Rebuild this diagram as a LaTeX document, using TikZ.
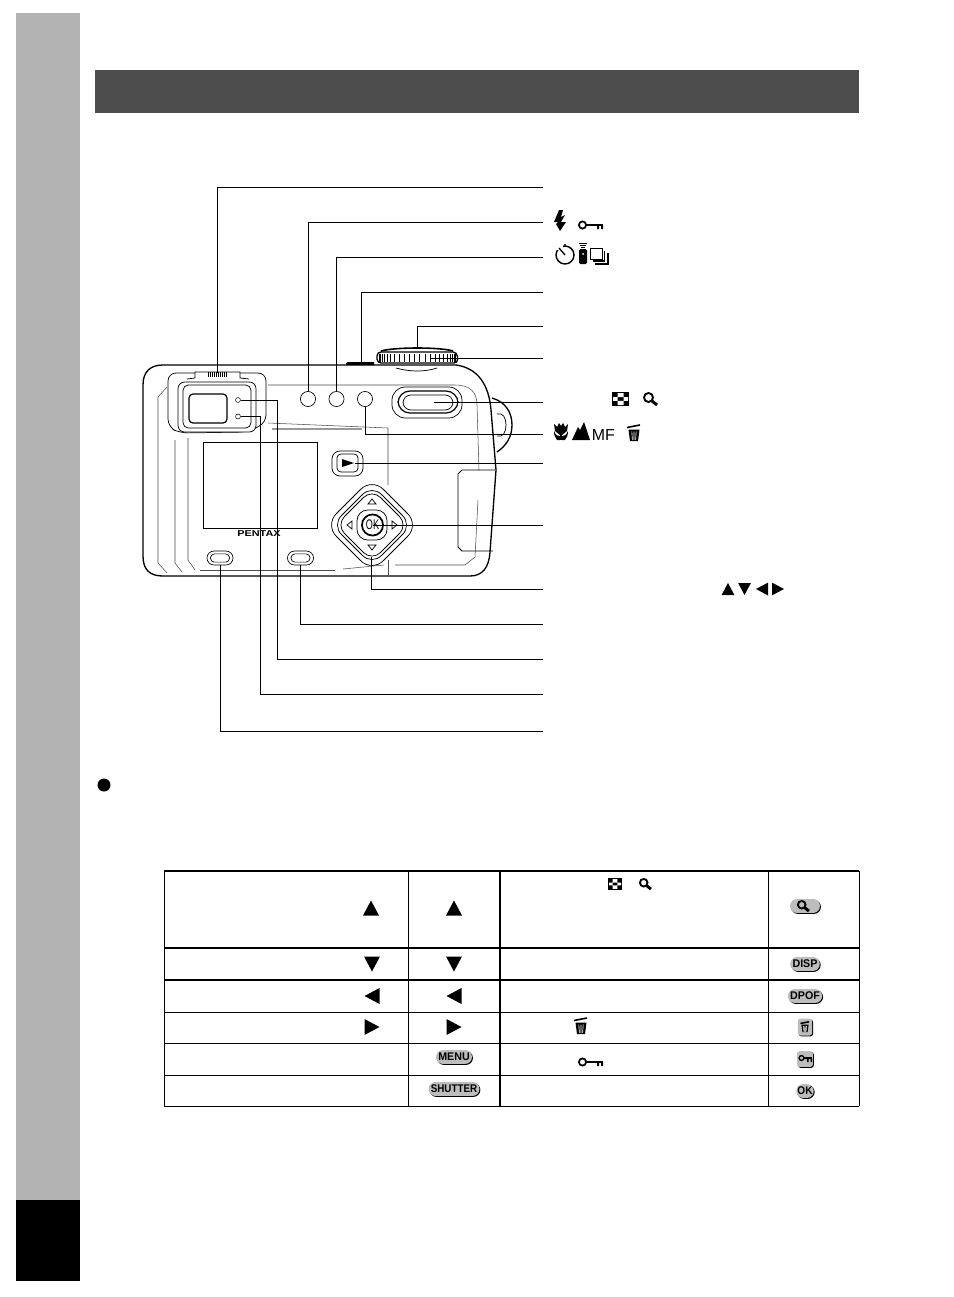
\documentclass[tikz,border=0pt]{standalone}
\usepackage{fontspec}
\usepackage{graphicx}
\setsansfont{Liberation Sans}
\usetikzlibrary{shapes.misc}

\definecolor{bandgray}{HTML}{B3B3B3}
\definecolor{headgray}{HTML}{4D4D4D}
\definecolor{capgray}{HTML}{BDBDBD}

\newcommand{\captext}[2][0.96]{\scalebox{#1}[1]{#2}}

\tikzset{
	leader/.style={draw=black, line width=0.75pt},
	rule/.style={draw=black, line width=0.6pt},
	rulethick/.style={draw=black, line width=1.35pt},
	contour/.style={draw=black!70, line width=0.4pt},
	outline/.style={draw=black, line width=0.55pt},
	roundbtn/.style={draw=black, line width=0.5pt, circle, minimum size=0.4cm, inner sep=0pt},
	led/.style={draw=black, line width=0.4pt, circle, minimum size=0.13cm, inner sep=0pt},
	ovalbtn/.style={draw=black, line width=0.5pt, rounded rectangle, minimum width=0.69cm, minimum height=0.37cm, inner sep=0pt},
	ovalin/.style={draw=black, line width=0.5pt, rounded rectangle, minimum width=0.51cm, minimum height=0.22cm, inner sep=0pt},
	keycap/.style={
		rounded rectangle,
		fill=capgray,
		inner xsep=0.8pt, inner ysep=0.5pt,
		minimum height=0.37cm,
		font=\sffamily\bfseries\fontsize{8.4}{9}\selectfont,
		preaction={fill=black, transform canvas={xshift=0.7pt, yshift=-0.7pt}},
	},
	pics/triup/.style={code={\fill (0,-7.5) -- (8,7.5) -- (-8,7.5) -- cycle;}},
	pics/tridown/.style={code={\fill (0,7.5) -- (8,-7.5) -- (-8,-7.5) -- cycle;}},
	pics/trileft/.style={code={\fill (-7.5,0) -- (7.5,-8) -- (7.5,8) -- cycle;}},
	pics/triright/.style={code={\fill (7.5,0) -- (-7.5,-8) -- (-7.5,8) -- cycle;}},
	pics/keyicon/.style={code={
		\draw[line width=1.3pt] (-8.5,0) circle (3.6);
		\fill (-5,-1) rectangle (12,1);
		\fill (6,0) rectangle (8,4) (10,0) rectangle (12,4);
	}},
	pics/trashicon/.style={code={
		\draw[line width=1.2pt] (-7,-5.5) -- (6,-8);
		\fill (-5.5,-3.5) -- (5.5,-3.5) -- (4,8) -- (-4,8) -- cycle;
		\draw[white, line width=0.5pt] (-2.2,-1.5) -- (-1.6,7) (0,-1.5) -- (0,7) (2.2,-1.5) -- (1.6,7);
	}},
	pics/magicon/.style={code={
		\draw[line width=1.4pt] (-1.5,-1.5) circle (4.5);
		\draw[line width=2.2pt] (2,2) -- (7,6);
	}},
	pics/checkicon/.style={code={
		\fill (-8.5,-7) rectangle (8.5,7);
		\fill[white] (-3,-6) rectangle (3,-1.8) (-7.5,-1.8) rectangle (-3,1.8) (3,-1.8) rectangle (7.5,1.8) (-3,1.8) rectangle (3,6);
	}},
}

\begin{document}
\begin{tikzpicture}[x=0.0265cm, y=-0.0265cm]
	\useasboundingbox (0,0) rectangle (954,1297);

	\fill[bandgray] (16,13) rectangle (80,1200);
	\fill[black] (16,1200) rectangle (80,1281);
	\fill[headgray] (95,70) rectangle (859,113);
	\fill[black] (104,785) circle (6.5);

	\draw[outline, line width=1pt] (492,398) .. controls (506,402) and (512,413) .. (512,425) .. controls (512,437) and (506,446) .. (497,452);
	\draw[outline] (497,414) .. controls (503,412) and (506,418) .. (506,425) .. controls (506,432) and (503,438) .. (497,436);
	\draw[outline, line width=1pt, fill=white] (456,365) -- (163,365) .. controls (150,365) and (143,372) .. (143,385) -- (143,556) .. controls (143,570) and (150,576) .. (163,576) -- (470,576) .. controls (482,576) and (489,568) .. (490,552) -- (496,470) -- (491,410) .. controls (489,385) and (478,368) .. (456,365) -- cycle;

	\draw[outline, line width=1pt, fill=white, rounded corners=3pt] (377,363) -- (377,352) -- (457,352) -- (458,363) -- cycle;
	\draw[outline, line width=1.2pt] (381,351) .. controls (395,347) and (440,347) .. (453,351);
	\foreach \a in {-84,-76,...,84}
		\draw[line width=0.4pt] ({417+38*sin(\a)},354) -- ({417+38*sin(\a)},362);
	\draw[outline] (396,368) .. controls (410,372) and (425,372) .. (437,368);
	\fill (346,363) -- (348,362) -- (374,362) -- (374,365) -- (346,365) -- cycle;

	\draw[outline, rounded corners=6pt] (168,427) -- (168,373) -- (266,373) -- (266,423) -- (247,432) -- (180,433) -- cycle;
	\draw[outline, fill=white, rounded corners=5pt] (178,382) rectangle (256,432);
	\draw[outline, rounded corners=4pt] (183,385) rectangle (251,428);
	\draw[outline, line width=0.9pt, rounded corners=3pt] (189,394) rectangle (227,423);
	\draw[outline, fill=white] (187,379) -- (195,378) -- (195,372) -- (240,372) -- (240,378) -- (249,379);
	\foreach \x in {208,210,...,227}
		\draw[line width=0.45pt] (\x,372) -- (\x,377);

	\draw[outline, line width=0.4pt] (203,442) rectangle (317,528);
	\node[font=\sffamily\bfseries\fontsize{6.4}{7}\selectfont] (LOGO) at (259,534) {\scalebox{1.28}[1]{PENTAX}};

	\draw[contour] (167,387) -- (158,397) -- (158,563) -- (167,573);
	\draw[contour] (175,440) -- (175,563) -- (182,572);
	\draw[contour] (188,438) -- (188,560) -- (195,570);
	\draw[contour] (200,570) -- (335,570);
	\draw[contour] (343,569) -- (384,565);
	\draw[contour] (388,560) -- (388,575);
	\draw[contour] (395,565) -- (465,565) -- (475,557) -- (478,500);
	\draw[contour] (268,423) -- (388,428) -- (388,485);
	\draw[black!40, line width=0.8pt] (272,429) -- (362,429);
	\draw[contour] (268,385) -- (455,385) .. controls (470,385) and (477,392) .. (477,405) -- (479,470);
	\draw[outline] (495,470) -- (462,470) -- (458,474) -- (458,547) -- (462,551) -- (493,551);

	\node[roundbtn] (FLASH) at (308,399) {};
	\node[roundbtn] (TIMER) at (336.5,399) {};
	\node[roundbtn] (FOCUS) at (365,399) {};
	\node[led] (LED1) at (238,400) {};
	\node[led] (LED2) at (238,416.5) {};
	\node[ovalbtn] (DPOF) at (220,558) {};
	\node[ovalbtn] (DISP) at (300.5,558) {};
	\node[ovalin] (DPOFIN) at (220,558) {};
	\node[ovalin] (DISPIN) at (300.5,558) {};

	\draw[outline, rounded corners=10pt] (392,387) rectangle (462,418);
	\draw[outline, line width=0.9pt, rounded corners=9pt] (398,391) rectangle (458,413);
	\draw[outline, rounded corners=6pt] (403,395) rectangle (453,410);

	\draw[outline, rounded corners=6pt] (332,451) rectangle (363,476);
	\draw[outline, rounded corners=3pt] (337,454) rectangle (358,472);
	\fill (342,459) -- (354,463) -- (342,467) -- cycle;

	\draw[outline, fill=white, rounded corners=12pt] (325,525) -- (372,478) -- (419,525) -- (372,572) -- cycle;
	\draw[outline, rounded corners=10pt] (332,525) -- (372,485) -- (412,525) -- (372,565) -- cycle;
	\draw[outline, rounded corners=9pt] (336,525) -- (372,489) -- (408,525) -- (372,561) -- cycle;
	\draw[outline, rounded corners=8pt] (357,510) rectangle (387,540);
	\node[draw=black, line width=1.3pt, circle, minimum size=0.56cm, inner sep=0pt, fill=white, font=\sffamily\fontsize{10.5}{11}\selectfont] (OK) at (372.5,525) {\scalebox{0.65}[1]{OK}};
	\draw[outline] (372,499) -- (376,504) -- (368,504) -- cycle;
	\draw[outline] (372,550) -- (376,545) -- (368,545) -- cycle;
	\draw[outline] (347,525) -- (352,521) -- (352,529) -- cycle;
	\draw[outline] (397,525) -- (392,521) -- (392,529) -- cycle;

	\foreach \n/\y in {T1/187, T2/222, T3/257, T4/292, T5/326, T6/358, T7/402.5, T8/434, T9/463, T10/525, T11/589, T12/624, T13/659, T14/694, T15/731}
		\coordinate (\n) at (543,\y);
	\coordinate (SLIDER) at (217,373);
	\coordinate (SHUTTER) at (361,362);
	\coordinate (DOME) at (417,348);
	\coordinate (DIAL) at (430,358);
	\coordinate (ZOOM) at (434,402.5);
	\coordinate (PLAY) at (355,463);
	\coordinate (PAD) at (371,557);

	\draw[leader] (SLIDER) |- (T1);
	\draw[leader] (FLASH.north) |- (T2);
	\draw[leader] (TIMER.north) |- (T3);
	\draw[leader] (SHUTTER) |- (T4);
	\draw[leader] (DOME) |- (T5);
	\draw[leader] (DIAL) -- (T6);
	\draw[leader] (ZOOM) -- (T7);
	\draw[leader] (FOCUS.south) |- (T8);
	\draw[leader] (PLAY) -- (T9);
	\draw[leader] (OK.center) -- (T10);
	\draw[leader] (PAD) |- (T11);
	\draw[leader] (DISP.south) |- (T12);
	\draw[leader] (LED1.east) -| (277,659) -- (T13);
	\draw[leader] (LED2.east) -| (260,694) -- (T14);
	\draw[leader] (DPOF.south) |- (T15);

	\fill (559,210) -- (554,222) -- (558,222) -- (556,224) -- (560,231) -- (566,222) -- (561,222) -- (565,215) -- (561,217) -- (563,210) -- cycle;
	\pic (KEYTOP) at (591,225) {keyicon};
	\draw[line width=1.1pt] (565,255) circle (9);
	\fill[white] (557,245) rectangle (563,250);
	\draw[line width=1pt] (559,248) -- (565,255);
	\fill (565,245) circle (1.1);
	\fill[rounded corners=1pt] (579,249) rectangle (587,264);
	\fill[white] (583,254) circle (1);
	\draw[line width=0.5pt] (579,243.5) -- (587,243.5) (580,245.5) -- (586,245.5) (581,247.5) -- (585,247.5);
	\draw[line width=0.7pt] (590.5,248.5) rectangle (602.5,259.5);
	\draw[line width=0.9pt] (604.5,251) -- (604.5,261) -- (593,261);
	\draw[line width=0.9pt] (608,253) -- (608,264) -- (595,264);

	\pic (CHECKTOP) at (620.5,399) {checkicon};
	\pic (MAGTOP) at (650,399) {magicon};

	\fill (554,424) -- (557,427) -- (559,423) -- (561,426) -- (563,423) -- (565,427) -- (568,424) -- (567,431) -- (562,435) -- (560,435) -- (555,431) -- cycle;
	\fill (560,433) rectangle (562,440);
	\fill (554,431) .. controls (556,436) and (558,436) .. (560,436) -- (560,440) -- (557,440) .. controls (555,438) and (554,435) .. (554,431) -- cycle;
	\fill (568,431) .. controls (566,436) and (564,436) .. (562,436) -- (562,440) -- (565,440) .. controls (567,438) and (568,435) .. (568,431) -- cycle;
	\fill (572,440) -- (578,427) -- (580,430) -- (584,422) -- (590,440) -- cycle;
	\node[font=\sffamily\fontsize{12}{13}\selectfont, inner sep=0pt, anchor=base west] (MF) at (591.5,440) {MF};
	\pic (TRASHTOP) at (634,433) {trashicon};

	\pic[scale=0.8] (PADUP) at (728,589) {triup};
	\pic[scale=0.8] (PADDOWN) at (744.5,589) {tridown};
	\pic[scale=0.8] (PADLEFT) at (762,589) {trileft};
	\pic[scale=0.8] (PADRIGHT) at (778,589) {triright};

	\draw[rulethick] (164,871) -- (859,871);
	\draw[rulethick] (164,948) -- (859,948);
	\draw[rulethick] (164,980) -- (859,980);
	\draw[rule] (164,1012) -- (859,1012);
	\draw[rule] (164,1043.5) -- (859,1043.5);
	\draw[rule] (164,1075.5) -- (859,1075.5);
	\draw[rule] (164,1106) -- (859,1106);
	\draw[rule] (164,871) -- (164,1106);
	\draw[rule] (408,871) -- (408,1106);
	\draw[rulethick] (500,871) -- (500,1106);
	\draw[rule] (768,871) -- (768,1106);
	\draw[rule] (859,871) -- (859,1106);

	\pic (UPA) at (371,908) {triup};
	\pic (UPB) at (454,908) {triup};
	\pic (DOWNA) at (372,964) {tridown};
	\pic (DOWNB) at (454,964) {tridown};
	\pic (LEFTA) at (372,996) {trileft};
	\pic (LEFTB) at (454,996) {trileft};
	\pic (RIGHTA) at (372,1027) {triright};
	\pic (RIGHTB) at (454,1027) {triright};

	\pic[scale=0.8] (CHECKTAB) at (615,884) {checkicon};
	\pic[scale=0.85] (MAGTAB) at (645,884) {magicon};
	\pic (TRASHTAB) at (581,1026) {trashicon};
	\pic (KEYTAB) at (591,1062) {keyicon};

	\node[keycap, minimum width=0.85cm] (KMAG) at (805,906) {};
	\pic[scale=0.85] (MAGKEY) at (803,906) {magicon};
	\node[keycap] (KDISP) at (805,964) {\captext{DISP}};
	\node[keycap] (KDPOF) at (805,996) {\captext{DPOF}};
	\node[keycap, rounded corners=2pt, rectangle, minimum width=0.38cm, minimum height=0.45cm] (KTRASH) at (805,1027) {};
	\pic[scale=0.65] (TRASHKEY) at (805,1027) {trashicon};
	\node[keycap, rounded corners=2pt, rectangle, minimum width=0.42cm, minimum height=0.42cm] (KKEY) at (805,1059) {};
	\draw[line width=1pt] (801.5,1058) circle (2.4);
	\fill (804,1057) rectangle (812,1059) (807,1058) rectangle (808.5,1062) (810.5,1058) rectangle (812,1062);
	\node[keycap, inner xsep=0pt] (KOK) at (805,1091) {\captext[0.9]{OK}};
	\node[keycap] (KMENU) at (454,1057) {\captext{MENU}};
	\node[keycap] (KSHUTTER) at (454,1089) {\captext[0.88]{SHUTTER}};
\end{tikzpicture}
\end{document}
